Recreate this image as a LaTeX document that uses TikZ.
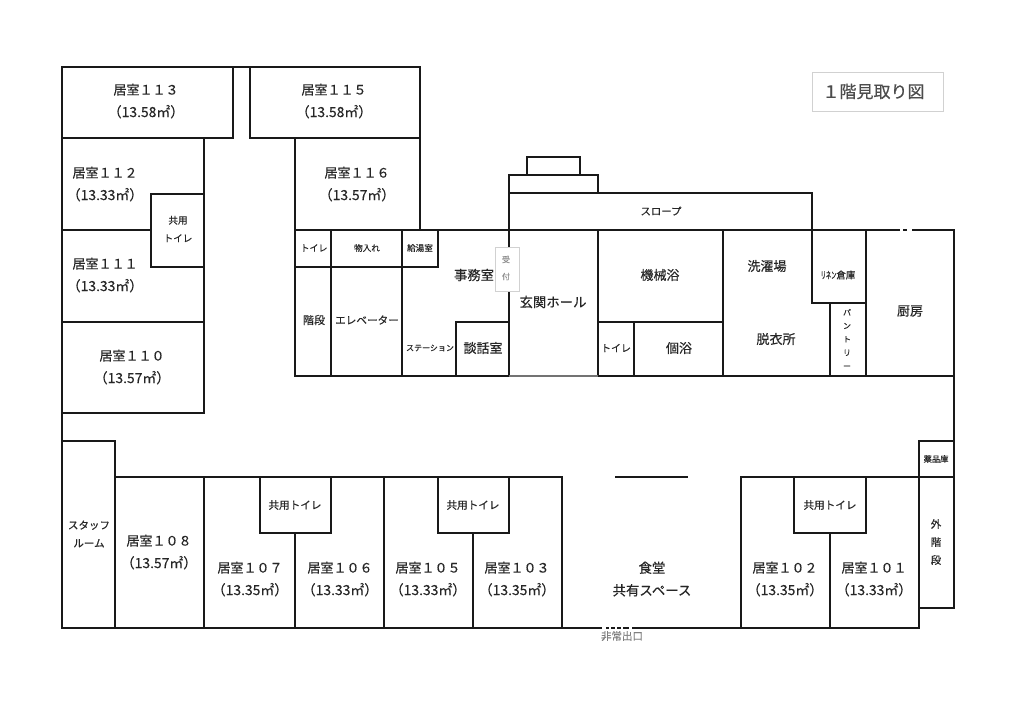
\documentclass[tikz,border=0pt]{standalone}
\usepackage{fontspec}
\setmainfont{Noto Sans CJK JP}[FakeBold=0.35]
\newcommand{\areatxt}[1]{{\fontsize{13.9}{22.5}\selectfont（#1㎡）}}
\tikzset{
  wall/.style={line width=2.4pt,black!90,line cap=rect,line join=miter},
  lab/.style={inner sep=0pt,outer sep=0pt,align=center,text=black!85},
  room/.style={lab,font=\fontsize{13}{22.5}\selectfont},
  fs/.style={lab,font=\fontsize{#1}{#1}\selectfont},
  stk/.style 2 args={lab,font=\fontsize{#1}{#2}\selectfont},
}
\begin{document}
\begin{tikzpicture}[x=1pt,y=-1pt]
\useasboundingbox (0,0) rectangle (1024,724);
\fill[white] (0,0) rectangle (1024,724);
% outer and left wing
\draw[wall] (233,138) -- (233,67) -- (62,67) -- (62,628) -- (919,628);
\draw[wall] (233,67) -- (420,67) -- (420,230);
\draw[wall] (62,138) -- (233,138);
\draw[wall] (250,67) -- (250,138) -- (420,138);
\draw[wall] (204,138) -- (204,413) -- (62,413);
\draw[wall] (62,230) -- (151,230);
\draw[wall] (151,194) -- (204,194);
\draw[wall] (151,194) -- (151,267) -- (204,267);
\draw[wall] (62,322) -- (204,322);
% lower wing
\draw[wall] (62,441) -- (115,441) -- (115,628);
\draw[wall] (115,477) -- (562,477) -- (562,628);
\draw[wall] (616,477) -- (687,477);
\draw[wall] (741,628) -- (741,477) -- (954,477);
\draw[wall] (204,477) -- (204,628);
\draw[wall] (260,477) -- (260,533) -- (331,533) -- (331,477);
\draw[wall] (295,533) -- (295,628);
\draw[wall] (384,477) -- (384,628);
\draw[wall] (438,477) -- (438,533) -- (509,533) -- (509,477);
\draw[wall] (473,533) -- (473,628);
\draw[wall] (794,477) -- (794,533) -- (866,533) -- (866,477);
\draw[wall] (830,533) -- (830,628);
\draw[wall] (919,628) -- (919,441) -- (954,441);
\draw[wall] (919,608) -- (954,608) -- (954,230);
% centre block
\draw[wall] (295,138) -- (295,376) -- (509,376);
\draw[wall] (295,230) -- (954,230);
\draw[wall] (295,267) -- (438,267) -- (438,230);
\draw[wall] (331,230) -- (331,376);
\draw[wall] (402,230) -- (402,376);
\draw[wall] (456,376) -- (456,322) -- (509,322);
\draw[wall] (509,376) -- (509,175) -- (598,175) -- (598,193);
\draw[wall] (527,175) -- (527,157) -- (580,157) -- (580,175);
\draw[wall] (509,193) -- (812,193) -- (812,303) -- (866,303);
\draw[wall] (598,230) -- (598,376) -- (954,376);
\draw[wall] (598,322) -- (723,322);
\draw[wall] (634,322) -- (634,376);
\draw[wall] (723,230) -- (723,376);
\draw[wall] (830,303) -- (830,376);
\draw[wall] (866,230) -- (866,376);
\draw[line width=3.4pt,white] (510.5,376) -- (596.5,376);
\draw[line width=1.2pt,black!55] (509,376) -- (598,376);
% door gaps
\draw[line width=3.6pt,white] (900,230) -- (903,230) (907,230) -- (912,230);
\draw[line width=3.6pt,white] (602,628) -- (606,628) (609,628) -- (611,628) (615,628) -- (617,628) (621,628) -- (623,628) (629,628) -- (632,628);
% reception counter and title
\node[draw=black!18,fill=white,line width=0.8pt,minimum width=24pt,minimum height=44pt,inner sep=0pt] (counter) at (507,269) {};
\node[stk={8}{17},text=black!45] (uketsuke) at (506,268) {受\\付};
\node[draw=black!18,line width=0.8pt,minimum width=131pt,minimum height=39pt,inner sep=0pt,text=black!70,font=\fontsize{17}{17}\selectfont] (title) at (877.5,91.5) {\makebox[116pt][l]{\hspace{3pt}１階見取り図}};
% room labels
\node[room] (r113) at (146,101) {居室１１３\\\areatxt{13.58}};
\node[room] (r115) at (334,101) {居室１１５\\\areatxt{13.58}};
\node[room] (r112) at (105,184) {居室１１２\\\areatxt{13.33}};
\node[room] (r111) at (105,275) {居室１１１\\\areatxt{13.33}};
\node[room] (r110) at (132,367) {居室１１０\\\areatxt{13.57}};
\node[room] (r116) at (357,184) {居室１１６\\\areatxt{13.57}};
\node[room] (r108) at (159,552) {居室１０８\\\areatxt{13.57}};
\node[room] (r107) at (250,579) {居室１０７\\\areatxt{13.35}};
\node[room] (r106) at (340,579) {居室１０６\\\areatxt{13.33}};
\node[room] (r105) at (428,579) {居室１０５\\\areatxt{13.33}};
\node[room] (r103) at (517,579) {居室１０３\\\areatxt{13.35}};
\node[room] (r102) at (785,579) {居室１０２\\\areatxt{13.35}};
\node[room] (r101) at (874,579) {居室１０１\\\areatxt{13.33}};
\node[stk={13.4}{22.5}] (dining) at (652,579) {食堂\\共有スペース};
% small rooms
\node[stk={9.6}{18}] (wc1) at (178,229) {共用\\トイレ};
\node[fs=9] (wc2) at (314,248) {トイレ};
\node[fs=8.6] (store) at (367,248) {物入れ};
\node[fs=8.6] (pantry0) at (420,248) {給湯室};
\node[fs=11] (stairs) at (314,320) {階段};
\node[fs=10.6] (ev) at (367,320) {エレベーター};
\node[fs=8] (station) at (430,348) {ステーション};
\node[fs=13] (talk) at (483,348) {談話室};
\node[fs=13.3] (office) at (474,275) {事務室};
\node[fs=13.4] (hall) at (553,302) {玄関ホール};
\node[fs=10.4] (slope) at (661,211) {スロープ};
\node[fs=13] (bath1) at (660,275) {機械浴};
\node[fs=13] (laundry) at (767,266) {洗濯場};
\node[lab,font=\fontsize{9.5}{10}\selectfont] (linen) at (838,275) {\scalebox{0.55}[1]{リネン}倉庫};
\node[fs=13] (kitchen) at (910,311) {厨房};
\node[fs=10] (wc3) at (616,348) {トイレ};
\node[fs=13] (bath2) at (679,348) {個浴};
\node[fs=13] (dress) at (776,339) {脱衣所};
\node[stk={8}{13.4}] (pantry) at (847,339) {パ\\ン\\ト\\リ\\ー};
\node[fs=8.3] (med) at (936,459) {薬品庫};
\node[stk={10.5}{18}] (extstairs) at (936,542) {外\\階\\段};
\node[fs=10.6] (wc4) at (295,505) {共用トイレ};
\node[fs=10.6] (wc5) at (473,505) {共用トイレ};
\node[fs=10.6] (wc6) at (830,505) {共用トイレ};
\node[stk={10.5}{18}] (staff) at (89,534) {スタッフ\\ルーム};
\node[fs=10.5,text=black!50] (exit) at (622,636) {非常出口};
\end{tikzpicture}
\end{document}
